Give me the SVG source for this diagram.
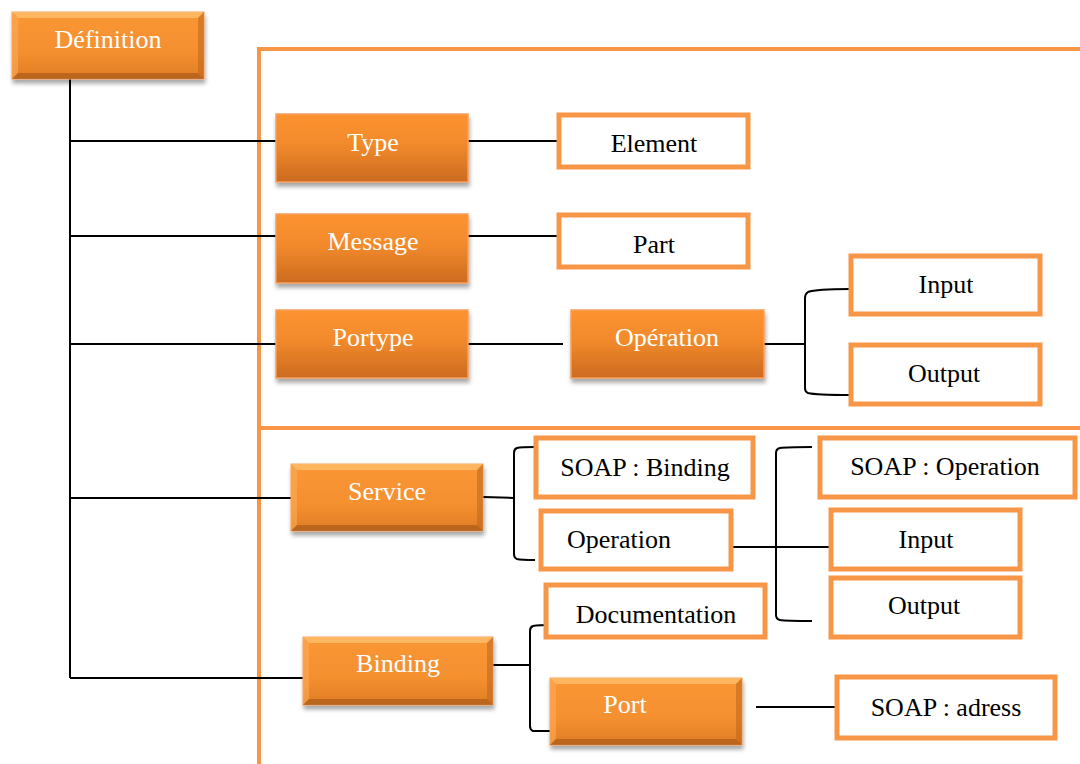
<svg xmlns="http://www.w3.org/2000/svg" width="1080" height="764" viewBox="0 0 1080 764">
<defs>
<linearGradient id="og" x1="0" y1="0" x2="0" y2="1">
<stop offset="0" stop-color="#FD9330"/>
<stop offset="0.45" stop-color="#F28A2C"/>
<stop offset="1" stop-color="#CC6A1F"/>
</linearGradient>
<linearGradient id="bg" x1="0" y1="0" x2="0" y2="1">
<stop offset="0" stop-color="#FA9633"/>
<stop offset="0.6" stop-color="#F4902F"/>
<stop offset="1" stop-color="#E07C25"/>
</linearGradient>
<filter id="sh" x="-10%" y="-10%" width="125%" height="135%">
<feGaussianBlur in="SourceAlpha" stdDeviation="2"/>
<feOffset dx="1" dy="4" result="b"/>
<feComponentTransfer><feFuncA type="linear" slope="0.35"/></feComponentTransfer>
<feMerge><feMergeNode/><feMergeNode in="SourceGraphic"/></feMerge>
</filter>
<style>
.o{fill:url(#og);stroke:#F3A060;stroke-width:1.5;filter:url(#sh)}
.ob{fill:url(#bg);stroke:#F3A060;stroke-width:1;filter:url(#sh)}
.bt{fill:#FFC270;opacity:0.75}
.bl{fill:#FDAA55;opacity:0.6}
.bb{fill:#9A5215;opacity:0.55}
.br{fill:#B8621A;opacity:0.5}
.w{fill:#fff;stroke:#F79646;stroke-width:5}
.fr{fill:none;stroke:#F79646;stroke-width:4}
.ln{fill:none;stroke:#000;stroke-width:2}
.tw{font-family:"Liberation Serif","Times New Roman",serif;font-size:26px;fill:#fff;text-anchor:middle}
.tb{font-family:"Liberation Serif","Times New Roman",serif;font-size:26px;fill:#000;text-anchor:middle}
</style>
</defs>
<rect width="1080" height="764" fill="#fff"/>
<g id="frame">
<path class="fr" d="M259,764 V49 H1080"/>
<path class="fr" d="M259,428 H1080"/>
</g>
<g id="connectors">
<path class="ln" d="M70,79 V678"/>
<path class="ln" d="M70,141 H276"/>
<path class="ln" d="M70,236 H276"/>
<path class="ln" d="M70,344 H276"/>
<path class="ln" d="M70,498 H291"/>
<path class="ln" d="M70,678 H303"/>
<path class="ln" d="M468,141 H558"/>
<path class="ln" d="M468,236 H558"/>
<path class="ln" d="M468,344 H563"/>
<path class="ln" d="M764,344 H805"/>
<path class="ln" d="M850,289 Q816,289 808,292 Q805,294 805,298 V388 Q805,392 808,393 Q816,395 850,395"/>
<path class="ln" d="M483,497 L514,498"/>
<path class="ln" d="M535,447 Q521,447 517,448 Q514,449 514,453 V554 Q514,558 517,559 Q521,560 535,560"/>
<path class="ln" d="M732,547 H830"/>
<path class="ln" d="M812,447 Q786,447 780,448 Q776,449 776,453 V615 Q776,619 780,620 Q786,621 812,621"/>
<path class="ln" d="M493,665 H530"/>
<path class="ln" d="M553,625 Q538,625 533,626 Q530,627 530,631 V726 Q530,730 533,731 Q538,731 553,731"/>
<path class="ln" d="M756,707 H836"/>
</g>
<g id="definition"><rect class="ob" x="12" y="12" width="192" height="67"/>
<path class="bt" d="M12,12 H204 L198,18 H18 Z"/><path class="bl" d="M12,12 L18,18 V73 L12,79 Z"/><path class="bb" d="M12,79 H204 L198,73 H18 Z"/><path class="br" d="M204,12 L198,18 V73 L204,79 Z"/>
<text class="tw" x="108" y="48">Définition</text></g>
<g id="type"><rect class="o" x="276" y="114" width="192" height="68"/><text class="tw" x="373" y="151">Type</text></g>
<g id="element"><rect class="w" x="559" y="115" width="189" height="52"/><text class="tb" x="654" y="152">Element</text></g>
<g id="message"><rect class="o" x="276" y="214" width="192" height="69"/><text class="tw" x="373" y="250">Message</text></g>
<g id="part"><rect class="w" x="559" y="215" width="189" height="52"/><text class="tb" x="654" y="253">Part</text></g>
<g id="portype"><rect class="o" x="276" y="310" width="192" height="68"/><text class="tw" x="373" y="346">Portype</text></g>
<g id="operation1"><rect class="o" x="571" y="310" width="193" height="68"/><text class="tw" x="667" y="346">Opération</text></g>
<g id="input1"><rect class="w" x="851" y="256" width="189" height="58"/><text class="tb" x="946" y="293">Input</text></g>
<g id="output1"><rect class="w" x="851" y="345" width="189" height="59"/><text class="tb" x="944" y="382">Output</text></g>
<g id="service"><rect class="ob" x="291" y="464" width="192" height="67"/>
<path class="bt" d="M291,464 H483 L477,470 H297 Z"/><path class="bl" d="M291,464 L297,470 V525 L291,531 Z"/><path class="bb" d="M291,531 H483 L477,525 H297 Z"/><path class="br" d="M483,464 L477,470 V525 L483,531 Z"/>
<text class="tw" x="387" y="500">Service</text></g>
<g id="soapbinding"><rect class="w" x="536" y="438" width="217" height="59"/><text class="tb" x="645" y="476">SOAP : Binding</text></g>
<g id="operation2"><rect class="w" x="541" y="511" width="190" height="58"/><text class="tb" x="619" y="548">Operation</text></g>
<g id="soapoperation"><rect class="w" x="820" y="438" width="255" height="59"/><text class="tb" x="945" y="475">SOAP : Operation</text></g>
<g id="input2"><rect class="w" x="831" y="510" width="189" height="59"/><text class="tb" x="926" y="548">Input</text></g>
<g id="output2"><rect class="w" x="831" y="578" width="189" height="59"/><text class="tb" x="924" y="614">Output</text></g>
<g id="documentation"><rect class="w" x="546" y="585" width="219" height="52"/><text class="tb" x="656" y="623">Documentation</text></g>
<g id="binding"><rect class="ob" x="303" y="637" width="190" height="68"/>
<path class="bt" d="M303,637 H493 L487,643 H309 Z"/><path class="bl" d="M303,637 L309,643 V699 L303,705 Z"/><path class="bb" d="M303,705 H493 L487,699 H309 Z"/><path class="br" d="M493,637 L487,643 V699 L493,705 Z"/>
<text class="tw" x="398" y="672">Binding</text></g>
<g id="port"><rect class="ob" x="550" y="678" width="192" height="67"/>
<path class="bt" d="M550,678 H742 L736,684 H556 Z"/><path class="bl" d="M550,678 L556,684 V739 L550,745 Z"/><path class="bb" d="M550,745 H742 L736,739 H556 Z"/><path class="br" d="M742,678 L736,684 V739 L742,745 Z"/>
<text class="tw" x="625" y="713">Port</text></g>
<g id="soapadress"><rect class="w" x="837" y="677" width="218" height="61"/><text class="tb" x="946" y="716">SOAP : adress</text></g>
</svg>
